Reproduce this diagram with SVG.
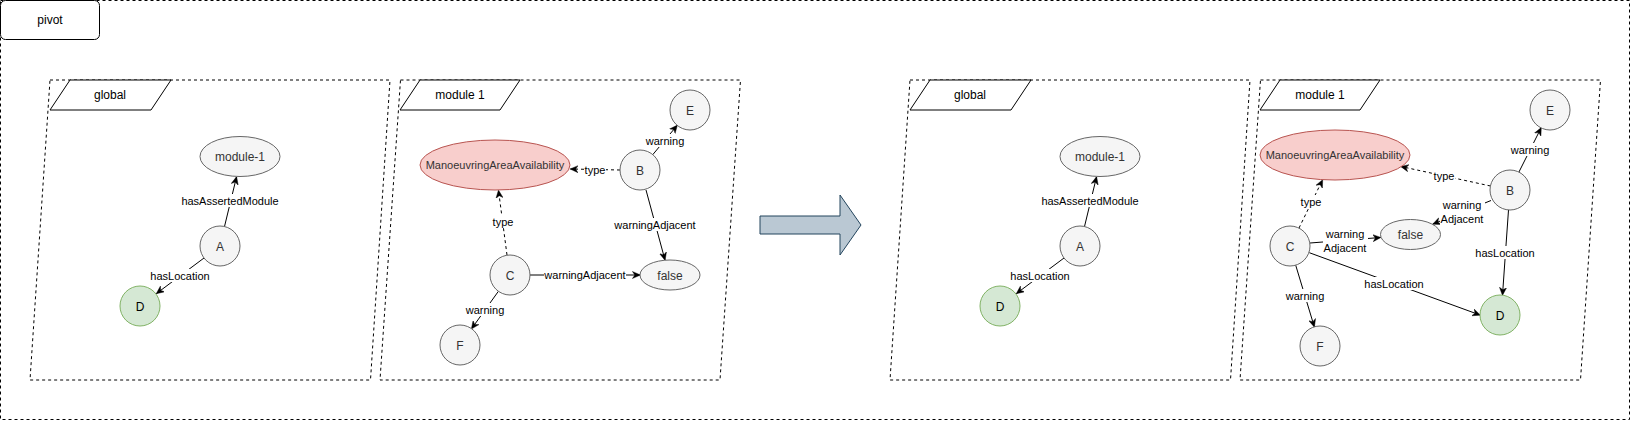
<svg xmlns="http://www.w3.org/2000/svg" width="1631" height="421" viewBox="0 0 1631 421">
<style>
text{font-family:"Liberation Sans",Arial,sans-serif;text-anchor:middle}
.cont{fill:none;stroke:#000;stroke-width:1;stroke-dasharray:3 3}
.lbl{fill:#fff;stroke:#000;stroke-width:1}
.t12{font-size:12px;fill:#000}
.n{fill:#f5f5f5;stroke:#666;stroke-width:1}
.nt{font-size:12px;fill:#333}
.g{fill:#d5e8d4;stroke:#82b366;stroke-width:1}
.gt{font-size:12px;fill:#000}
.r{fill:#f8cecc;stroke:#b85450;stroke-width:1}
.rt{font-size:11px;fill:#333}
.e{fill:none;stroke:#000;stroke-width:1;marker-end:url(#arr)}
.d{stroke-dasharray:3 3}
.bg{fill:#fff}
.el{font-size:11px;fill:#000}
</style>
<defs>
<marker id="arr" viewBox="0 0 10 10" refX="9.5" refY="5" markerWidth="8" markerHeight="8" markerUnits="userSpaceOnUse" orient="auto">
<path d="M0,0.5 L10,5 L0,9.5 L3,5 Z" fill="#000" stroke="#000" stroke-width="0.5"/>
</marker>
</defs>

<g id="pivot">
<rect class="cont" x="0.5" y="0.5" width="1629" height="419"/>
<rect class="lbl" x="0.5" y="0.5" width="99" height="39" rx="5"/>
<text class="t12" x="50" y="24">pivot</text>
</g>

<g id="global-1">
<path class="cont" d="M50,80 L390,80 L370.5,380 L30,380 Z"/>
<path class="lbl" d="M70,80 L171,80 L151,110 L50,110 Z"/>
<text class="t12" x="110" y="99">global</text>
</g>
<g id="module1-1">
<path class="cont" d="M400.5,80 L740.5,80 L720,380 L380,380 Z"/>
<path class="lbl" d="M420,80 L520,80 L500,110 L400,110 Z"/>
<text class="t12" x="460" y="99">module 1</text>
</g>
<g id="global-2">
<path class="cont" d="M910,80 L1250,80 L1230.5,380 L890,380 Z"/>
<path class="lbl" d="M930,80 L1031,80 L1011,110 L910,110 Z"/>
<text class="t12" x="970" y="99">global</text>
</g>
<g id="module1-2">
<path class="cont" d="M1260.5,80 L1600.5,80 L1580.5,380 L1240,380 Z"/>
<path class="lbl" d="M1280,80 L1380,80 L1360,110 L1260,110 Z"/>
<text class="t12" x="1320" y="99">module 1</text>
</g>

<g id="transform-arrow">
<path d="M760,216 L840,216 L840,195 L861,225 L840,255 L840,234 L760,234 Z" fill="#bac8d3" stroke="#23445d" stroke-width="1"/>
</g>

<g id="connectors">
<!-- panel 1 global -->
<path class="e" d="M224.5,226.5 L236.5,177"/>
<rect class="bg" x="181" y="194" width="98" height="13"/>
<text class="el" x="230" y="205">hasAssertedModule</text>
<path class="e" d="M204,258 L156.5,293.5"/>
<rect class="bg" x="150" y="269" width="60" height="13"/>
<text class="el" x="180" y="280">hasLocation</text>
<!-- panel 1 module 1 -->
<path class="e d" d="M620,170 L570.5,169"/>
<rect class="bg" x="584" y="163" width="22" height="13"/>
<text class="el" x="595" y="174">type</text>
<path class="e" d="M652.8,154.6 L677.2,125.4"/>
<rect class="bg" x="645" y="134" width="40" height="13"/>
<text class="el" x="665" y="145">warning</text>
<path class="e" d="M646,190 L665,260"/>
<rect class="bg" x="614" y="218" width="82" height="13"/>
<text class="el" x="655" y="229">warningAdjacent</text>
<path class="e d" d="M507,255 L498.5,190.5"/>
<rect class="bg" x="492" y="215" width="22" height="13"/>
<text class="el" x="503" y="226">type</text>
<path class="e" d="M530,275 L640,275"/>
<rect class="bg" x="544" y="268" width="82" height="13"/>
<text class="el" x="585" y="279">warningAdjacent</text>
<path class="e" d="M498.4,291.3 L471.6,328.7"/>
<rect class="bg" x="465" y="303" width="40" height="13"/>
<text class="el" x="485" y="314">warning</text>
<!-- panel 2 global -->
<path class="e" d="M1084.5,226.5 L1096.5,177"/>
<rect class="bg" x="1041" y="194" width="98" height="13"/>
<text class="el" x="1090" y="205">hasAssertedModule</text>
<path class="e" d="M1064,258 L1016.5,293.5"/>
<rect class="bg" x="1010" y="269" width="60" height="13"/>
<text class="el" x="1040" y="280">hasLocation</text>
<!-- panel 2 module 1 -->
<path class="e" d="M1518.9,172.1 L1541.1,127.9"/>
<rect class="bg" x="1510" y="143" width="40" height="13"/>
<text class="el" x="1530" y="154">warning</text>
<path class="e d" d="M1490.5,186 L1401,166.5"/>
<rect class="bg" x="1433" y="169" width="22" height="13"/>
<text class="el" x="1444" y="180">type</text>
<path class="e" d="M1491,200.5 L1433,224"/>
<rect class="bg" x="1440" y="199" width="45" height="26"/>
<text class="el" x="1462" y="209">warning</text>
<text class="el" x="1462" y="223">Adjacent</text>
<path class="e" d="M1508.5,210 L1502.5,295"/>
<rect class="bg" x="1475" y="246" width="60" height="13"/>
<text class="el" x="1505" y="257">hasLocation</text>
<path class="e d" d="M1299,228 L1322.5,180"/>
<rect class="bg" x="1300" y="195" width="22" height="13"/>
<text class="el" x="1311" y="206">type</text>
<path class="e" d="M1310,243 L1380.5,237.5"/>
<rect class="bg" x="1323" y="228" width="45" height="26"/>
<text class="el" x="1345" y="238">warning</text>
<text class="el" x="1345" y="252">Adjacent</text>
<path class="e" d="M1309.3,252.7 L1480,315"/>
<rect class="bg" x="1364" y="277" width="60" height="13"/>
<text class="el" x="1394" y="288">hasLocation</text>
<path class="e" d="M1295.7,265.2 L1314.3,326.8"/>
<rect class="bg" x="1285" y="289" width="40" height="13"/>
<text class="el" x="1305" y="300">warning</text>
</g>

<!-- panel 1 nodes -->
<g id="p1-module-1"><ellipse class="n" cx="240" cy="156.5" rx="40" ry="20"/><text class="nt" x="240" y="161">module-1</text></g>
<g id="p1-A"><circle class="n" cx="220" cy="246" r="20"/><text class="nt" x="220" y="250.5">A</text></g>
<g id="p1-D"><circle class="g" cx="140" cy="306" r="20"/><text class="gt" x="140" y="310.5">D</text></g>
<g id="p1-MAA"><ellipse class="r" cx="495" cy="165" rx="75" ry="25"/><text class="rt" x="495" y="169">ManoeuvringAreaAvailability</text></g>
<g id="p1-B"><circle class="n" cx="640" cy="170" r="20"/><text class="nt" x="640" y="174.5">B</text></g>
<g id="p1-E"><circle class="n" cx="690" cy="110" r="20"/><text class="nt" x="690" y="114.5">E</text></g>
<g id="p1-C"><circle class="n" cx="510" cy="275" r="20"/><text class="nt" x="510" y="279.5">C</text></g>
<g id="p1-F"><circle class="n" cx="460" cy="345" r="20"/><text class="nt" x="460" y="349.5">F</text></g>
<g id="p1-false"><ellipse class="n" cx="670" cy="275" rx="30" ry="15"/><text class="nt" x="670" y="279.5">false</text></g>

<!-- panel 2 nodes -->
<g id="p2-module-1"><ellipse class="n" cx="1100" cy="156.5" rx="40" ry="20"/><text class="nt" x="1100" y="161">module-1</text></g>
<g id="p2-A"><circle class="n" cx="1080" cy="246" r="20"/><text class="nt" x="1080" y="250.5">A</text></g>
<g id="p2-D-global"><circle class="g" cx="1000" cy="306" r="20"/><text class="gt" x="1000" y="310.5">D</text></g>
<g id="p2-MAA"><ellipse class="r" cx="1335" cy="155" rx="75" ry="25"/><text class="rt" x="1335" y="159">ManoeuvringAreaAvailability</text></g>
<g id="p2-B"><circle class="n" cx="1510" cy="190" r="20"/><text class="nt" x="1510" y="194.5">B</text></g>
<g id="p2-E"><circle class="n" cx="1550" cy="110" r="20"/><text class="nt" x="1550" y="114.5">E</text></g>
<g id="p2-C"><circle class="n" cx="1290" cy="246" r="20"/><text class="nt" x="1290" y="250.5">C</text></g>
<g id="p2-F"><circle class="n" cx="1320" cy="346" r="20"/><text class="nt" x="1320" y="350.5">F</text></g>
<g id="p2-D"><circle class="g" cx="1500" cy="315" r="20"/><text class="gt" x="1500" y="319.5">D</text></g>
<g id="p2-false"><ellipse class="n" cx="1410.5" cy="234.5" rx="30" ry="15"/><text class="nt" x="1410.5" y="239">false</text></g>
</svg>
